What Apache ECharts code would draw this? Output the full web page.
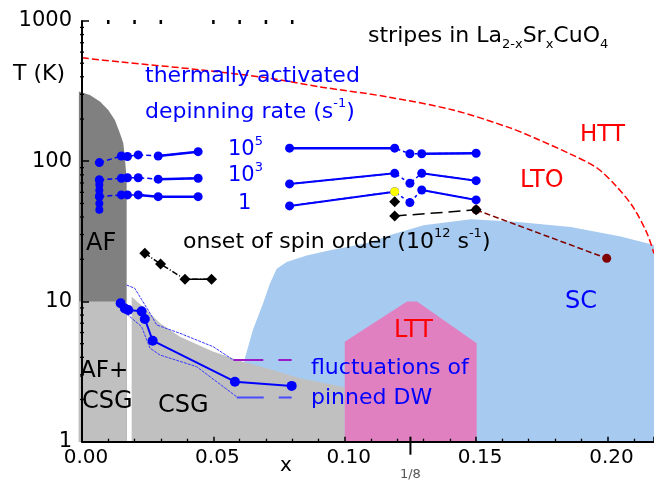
<!DOCTYPE html>
<html><head><meta charset="utf-8">
<script src="https://cdn.jsdelivr.net/npm/echarts@6/dist/echarts.min.js"></script>
<style>html,body{margin:0;padding:0;background:#fff}#c{width:654px;height:480px}</style>
</head><body><div id="c"></div>
<script>
// ---------------- data ----------------
const xTickLabels = ['0.00', '0.05', '0.10', '0.15', '0.20'];
const yTickLabels = ['1', '10', '100', '1000'];
const yMinorT = [2,3,4,5,6,7,8,9,20,30,40,50,60,70,80,90,200,300,400,500,600,700,800,900];
const topTickX = [0.01, 0.02, 0.03, 0.05, 0.06, 0.07, 0.08];
const eighthX = [0.125];

// phase regions
const afX = [-0.0012, 0.003, 0.0068, 0.010, 0.0125, 0.0144, 0.0157, 0.0163, 0.0170, 0.0170];
const afT = [314, 297, 267, 232, 197, 159, 135, 107, 74, 10];
const afcsgX = [-0.0012, 0.0170];
const afcsgT = [10, 10];
const csgX = [0.0189, 0.0189, 0.0246, 0.0297, 0.0373, 0.0498, 0.0612, 0.0703, 0.0830, 0.1000];
const csgT = [1, 10.8, 8.7, 7.0, 5.6, 4.4, 3.72, 3.34, 2.83, 2.45];
const scX = [0.056, 0.0621, 0.0651, 0.0690, 0.0715, 0.0741, 0.0779, 0.0855, 0.0944, 0.1083, 0.118, 0.130, 0.148, 0.165, 0.186, 0.205, 0.2177];
const scT = [1, 4.0, 6.3, 9.8, 13.4, 17.1, 19.1, 21.3, 23.2, 26, 30, 35, 38.5, 37, 34, 29, 25.3];
const lttX = [0.1, 0.1, 0.1237, 0.1275, 0.1502, 0.1502];
const lttT = [1, 5.17, 10, 10, 5.03, 1];
const httX = [0, 0.0144, 0.0453, 0.0704, 0.0906, 0.1161, 0.1412, 0.1629, 0.1732, 0.1857, 0.196, 0.2036, 0.2097, 0.2150, 0.2177];
const httT = [546, 511, 448, 393, 339, 288, 232, 173, 144, 113, 89.5, 65.6, 47.2, 30.8, 22];

// thermally activated depinning rate (1e5, 1e3, 1 s^-1)
const depLeftX = [0.0066, 0.0150, 0.0173, 0.0214, 0.0290, 0.0442];
const rate5Left = [97.8, 109, 108, 111, 109, 117];
const rate3Left = [73.5, 75.6, 76.3, 76.3, 74.5, 75.6];
const rate1Left = [56, 57.5, 57.5, 57.5, 55.9, 55.9];
const stackX = [0.0066, 0.0066, 0.0066, 0.0066, 0.0066, 0.0066];
const stackT = [74, 68, 62, 56, 50, 45];
const depRightX = [0.0790, 0.1190, 0.1248, 0.1293, 0.1500];
const rate5Right = [124, 124, 113, 113, 114];
const rate3Right = [68.9, 82, 69.7, 82, 72.7];
const rate1Right = [48, 60.7, 50.7, 62.4, 53];
const yellowX = [0.1190];
const yellowT = [60.7];

// onset of spin order
const onsetX = [0.0239, 0.0299, 0.0392, 0.0493];
const onsetT = [22.1, 18.5, 14.4, 14.4];
const onsetRX = [0.1190, 0.1500];
const onsetRT = [40.7, 45];
const onsetExtraX = [0.1190];
const onsetExtraT = [51.5];
const scOnsetX = [0.1500, 0.1997];
const scOnsetT = [45, 20.3];

// fluctuations of pinned DW
const flucX = [0.0147, 0.0163, 0.0176, 0.0227, 0.0239, 0.0269, 0.0582, 0.0798];
const flucT = [9.7, 8.9, 8.7, 8.5, 7.5, 5.25, 2.68, 2.5];
const upX = [0.0170, 0.0201, 0.0227, 0.0259, 0.0284, 0.0373, 0.0499, 0.0576];
const upT = [13.1, 12.4, 10.3, 8.24, 6.8, 5.93, 4.76, 3.83];
const lowX = [0.0157, 0.0182, 0.0227, 0.0259, 0.0297, 0.0436, 0.0589];
const lowT = [8.46, 7.8, 6.6, 4.64, 4.15, 3.43, 2.09];
const upDashX = [0.0576, 0.0798];
const upDashT = [3.83, 3.83];
const lowDashX = [0.0589, 0.0798];
const lowDashT = [2.07, 2.07];

// ---------------- helpers ----------------
const FONT = '"DejaVu Sans", sans-serif';
const BLUE = '#0000ff';
const pts = (xs, ts) => xs.map((x, i) => [x, ts[i]]);
// filled region down to the axis minimum (T = 1), drawn through the axis scales
function area(xs, ts, color, z) {
  return { type: 'custom', coordinateSystem: 'cartesian2d', silent: true, clip: false, z,
    data: pts(xs, ts),
    renderItem(params, api) {
      if (params.dataIndex !== 0) return null;
      const points = xs.map((x, i) => api.coord([x, ts[i]]));
      points.push(api.coord([xs[xs.length - 1], 1]));
      points.push(api.coord([xs[0], 1]));
      return { type: 'polygon', shape: { points }, style: { fill: color, stroke: null } };
    } };
}
function ln(data, o) {
  return Object.assign({ type: 'line', data, silent: true, clip: false, z: 5,
    symbol: o.symbol || 'none', symbolSize: o.size || 9, showSymbol: !!o.symbol,
    itemStyle: { color: o.mcolor || o.color, borderWidth: 0 },
    lineStyle: { color: o.color, width: o.width || 1.5, type: o.type || 'solid' } }, o.extra || {});
}

const series = [
  area(afX, afT, '#808080', 1),
  area(scX, scT, '#a6caf0', 1),
  area(afcsgX, afcsgT, '#c0c0c0', 2),
  area(csgX, csgT, '#c0c0c0', 2),
  area(lttX, lttT, '#e080c0', 3),
  ln(pts(httX, httT), { color: '#ff0000', width: 1.5, type: [7, 3], extra: { smooth: 0.3 } }),
  // depinning rate left
  ln(pts(depLeftX, rate5Left), { color: BLUE, type: [5, 3], symbol: 'circle' }),
  ln(pts(depLeftX, rate5Left).slice(4), { color: BLUE, width: 2.5 }),
  ln(pts(depLeftX, rate3Left), { color: BLUE, type: [5, 3], symbol: 'circle' }),
  ln(pts(depLeftX, rate3Left).slice(4), { color: BLUE, width: 2.5 }),
  ln(pts(depLeftX, rate1Left), { color: BLUE, type: [5, 3], symbol: 'circle' }),
  ln(pts(depLeftX, rate1Left).slice(3), { color: BLUE, width: 2.5 }),
  ln(pts(stackX, stackT), { color: BLUE, width: 3, symbol: 'circle', size: 8 }),
  // depinning rate right
  ln(pts(depRightX, rate5Right), { color: BLUE, type: [3, 3], symbol: 'circle' }),
  ln(pts(depRightX, rate5Right).slice(0, 2), { color: BLUE, width: 2.5 }),
  ln(pts(depRightX, rate5Right).slice(3), { color: BLUE, width: 2.5 }),
  ln(pts(depRightX, rate3Right), { color: BLUE, type: [3, 3], symbol: 'circle' }),
  ln(pts(depRightX, rate3Right).slice(0, 2), { color: BLUE, width: 2 }),
  ln(pts(depRightX, rate3Right).slice(3), { color: BLUE, width: 2 }),
  ln(pts(depRightX, rate1Right), { color: BLUE, type: [3, 3], symbol: 'circle' }),
  ln(pts(depRightX, rate1Right).slice(0, 2), { color: BLUE, width: 2 }),
  ln(pts(depRightX, rate1Right).slice(3), { color: BLUE, width: 2 }),
  ln(pts(yellowX, yellowT), { color: '#ffff00', symbol: 'circle', size: 9, extra: { z: 7 } }),
  // onset of spin order
  ln(pts(onsetX, onsetT), { color: '#000', type: [6, 2, 1, 2], symbol: 'diamond', size: 11 }),
  ln(pts(onsetX, onsetT).slice(2), { color: '#000', width: 1.5 }),
  ln(pts(scOnsetX, scOnsetT), { color: '#800000', type: [6, 3], symbol: 'circle', size: 9, extra: { z: 4 } }),
  ln(pts(onsetRX, onsetRT), { color: '#000', type: [12, 6], symbol: 'diamond', size: 11 }),
  ln(pts(onsetExtraX, onsetExtraT), { color: '#000', symbol: 'diamond', size: 11 }),
  // fluctuations
  ln(pts(upX, upT), { color: '#3a3aff', width: 1, type: [3, 1] }),
  ln(pts(lowX, lowT), { color: '#3a3aff', width: 1, type: [3, 1] }),
  ln(pts(upDashX, upDashT), { color: '#9a1ac8', width: 2, type: [30, 15] }),
  ln(pts(lowDashX, lowDashT), { color: '#4a4aff', width: 2, type: [27, 15] }),
  ln(pts(flucX, flucT), { color: BLUE, width: 2, symbol: 'circle', size: 10 }),
  // ticks drawn through the axes' scales
  { type: 'custom', coordinateSystem: 'cartesian2d', silent: true, clip: false, z: 20,
    data: [].concat(yMinorT.map(v => [0, v, 0]), topTickX.map(x => [x, 1000, 1]), eighthX.map(x => [x, 1, 2])),
    renderItem(params, api) {
      const kind = api.value(2);
      const p = api.coord([api.value(0), api.value(1)]);
      if (kind === 0) return { type: 'line', shape: { x1: p[0] - 2, y1: p[1], x2: p[0] + 2, y2: p[1] }, style: { stroke: '#000', lineWidth: 1.3 } };
      if (kind === 1) return { type: 'line', shape: { x1: p[0], y1: p[1] - 1, x2: p[0], y2: p[1] + 3 }, style: { stroke: '#000', lineWidth: 2.5 } };
      return { type: 'group', children: [
        { type: 'line', shape: { x1: p[0], y1: p[1] - 5, x2: p[0], y2: p[1] + 13 }, style: { stroke: '#000', lineWidth: 2 } },
        { type: 'text', x: p[0], y: p[1] + 33, style: { text: '1/8', fill: '#555', font: '13px ' + FONT, align: 'center', verticalAlign: 'middle' } }
      ] };
    } }
];

function T(x, y, text, color, size, extra) {
  return Object.assign({ type: 'text', x, y, z: 100, silent: true,
    style: { text, fill: color, font: size + 'px ' + FONT, verticalAlign: 'middle', align: 'left' } }, extra || {});
}
function R(x, y, text, color, size) {
  return { type: 'text', x, y, z: 100, silent: true,
    style: { text, fill: color, fontSize: size, fontFamily: FONT, verticalAlign: 'middle', align: 'left',
      rich: {
        b: { fontSize: size, fontFamily: FONT, lineHeight: 30, fill: color },
        sup: { fontSize: 13, fontFamily: FONT, lineHeight: 13, verticalAlign: 'top', fill: color },
        sub: { fontSize: 13, fontFamily: FONT, lineHeight: 13, verticalAlign: 'bottom', fill: color }
      } } };
}

const graphics = [
  T(13, 74, 'T (K)', '#000', 22),
  T(145, 76, 'thermally activated', BLUE, 22),
  R(145, 112, '{b|depinning rate (s}{sup|-1}{b|)}', BLUE, 22),
  R(368, 36, '{b|stripes in La}{sub|2-x}{b|Sr}{sub|x}{b|CuO}{sub|4}', '#000', 22),
  R(228, 150, '{b|10}{sup|5}', BLUE, 21),
  R(228, 176, '{b|10}{sup|3}', BLUE, 21),
  T(238, 204, '1', BLUE, 21),
  T(580, 135, 'HTT', '#ff0000', 23),
  T(520, 181, 'LTO', '#ff0000', 24),
  T(86, 244, 'AF', '#000', 24),
  R(183, 242, '{b|onset of spin order (10}{sup|12}{b| s}{sup|-1}{b|)}', '#000', 22),
  T(565, 302, 'SC', BLUE, 24),
  T(394, 331, 'LTT', '#ff0000', 24),
  T(311, 368, 'fluctuations of', BLUE, 22),
  T(311, 398, 'pinned DW', BLUE, 22),
  T(80, 371, 'AF+', '#000', 23),
  T(82, 402, 'CSG', '#000', 24),
  T(158, 406, 'CSG', '#000', 24),
  T(280, 466, 'x', '#000', 20)
];

const chart = echarts.init(document.getElementById('c'), null, { renderer: 'canvas' });
chart.setOption({
  animation: false,
  backgroundColor: '#fff',
  grid: { left: 82, right: 0, top: 21, bottom: 38.3, containLabel: false, outerBoundsMode: 'none' },
  xAxis: {
    type: 'value', min: 0, max: 0.2177, interval: 0.05, z: 10,
    axisLine: { onZero: false, lineStyle: { color: '#000', width: 2 } },
    axisTick: { inside: true, length: 5, lineStyle: { color: '#000', width: 1.5 } },
    minorTick: { show: true, splitNumber: 5, length: 3, lineStyle: { color: '#000', width: 1.3 } },
    splitLine: { show: false }, minorSplitLine: { show: false },
    axisLabel: { color: '#000', fontSize: 20, fontFamily: FONT, margin: 6, padding: [0, 0, 0, 8], showMaxLabel: false,
      formatter: v => xTickLabels[Math.round(v / 0.05)] || '' }
  },
  yAxis: {
    type: 'log', logBase: 10, min: 1, max: 1000, offset: 3, z: 10,
    axisLine: { lineStyle: { color: '#000', width: 2 } },
    axisTick: { inside: true, length: 7, lineStyle: { color: '#000', width: 1.5 } },
    splitLine: { show: false },
    axisLabel: { color: '#000', fontSize: 21, fontFamily: FONT, margin: 7, padding: [0, 0, 5, 0],
      formatter: v => yTickLabels[Math.round(Math.log10(v))] || '' }
  },
  series,
  graphic: graphics
});
</script></body></html>
